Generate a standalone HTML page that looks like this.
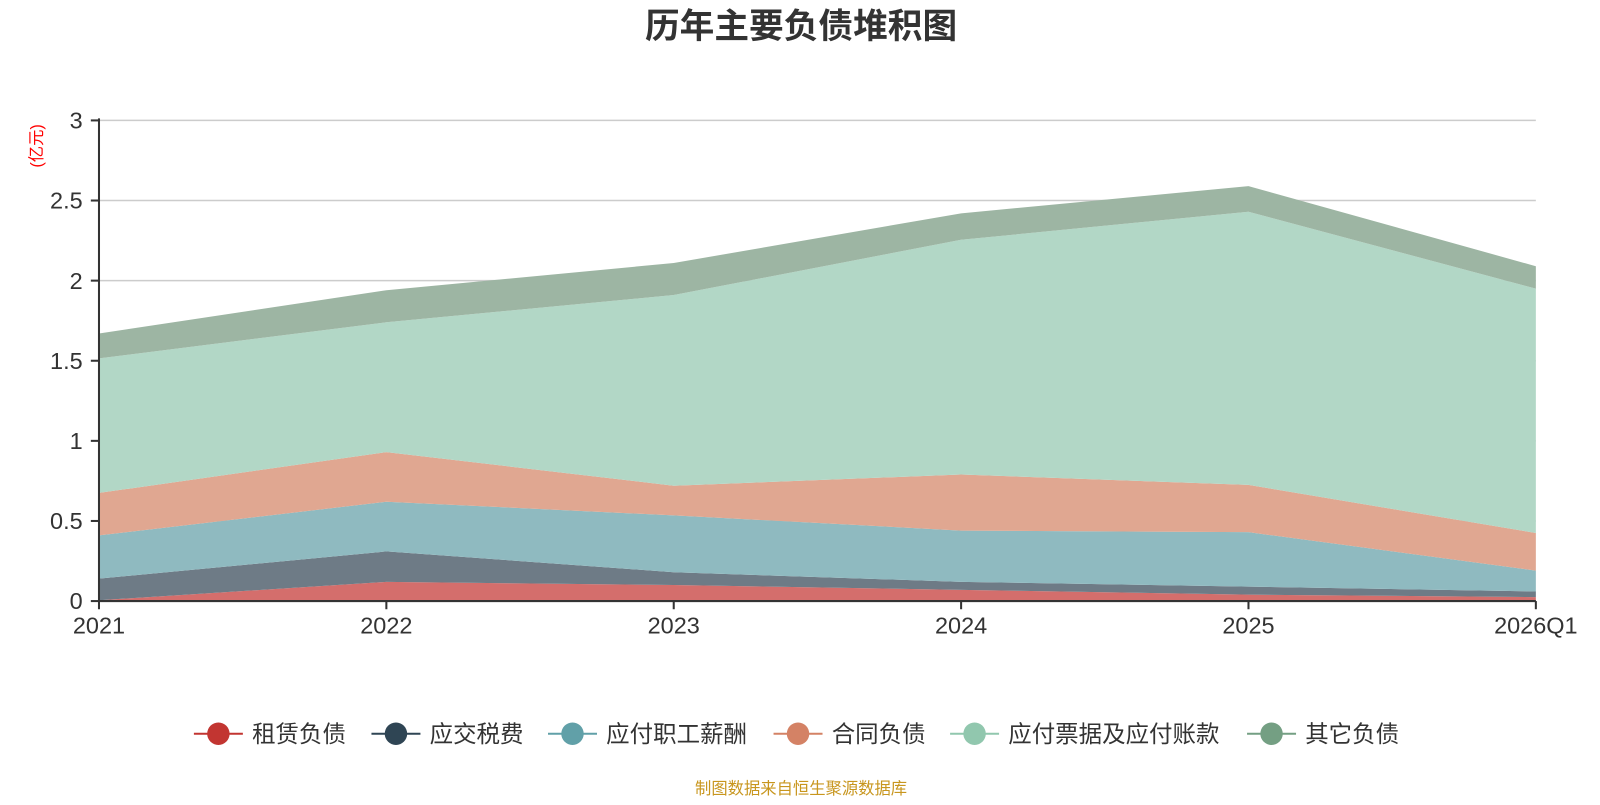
<!DOCTYPE html>
<html><head><meta charset="utf-8"><style>
body{margin:0;background:#fff;width:1600px;height:800px;overflow:hidden;font-family:"Liberation Sans","Noto Sans CJK SC",sans-serif}
</style></head><body>
<svg id="c" width="1600" height="800" style="font-family:'Liberation Sans','Noto Sans CJK SC',sans-serif">
<g transform="scale(1.0205)">
<text x="785" y="37" text-anchor="middle" font-size="34" font-weight="bold" fill="#333">历年主要负债堆积图</text>
<text transform="translate(41,143) rotate(-90)" text-anchor="middle" font-size="16" fill="#f00">(亿元)</text>
<g id="grid"></g><g id="areas"></g><g id="axes"></g><g id="legend"></g>
<text x="785" y="778" text-anchor="middle" font-size="16" fill="#c8961e">制图数据来自恒生聚源数据库</text>
</g>
</svg>
<script>
const categories=["2021","2022","2023","2024","2025","2026Q1"];
const seriesNames=["租赁负债","应交税费","应付职工薪酬","合同负债","应付票据及应付账款","其它负债"];
const s1=[0.005,0.12,0.10,0.07,0.04,0.025];
const s2=[0.135,0.19,0.08,0.05,0.05,0.035];
const s3=[0.27,0.31,0.355,0.32,0.34,0.13];
const s4=[0.265,0.31,0.185,0.35,0.295,0.235];
const s5=[0.84,0.81,1.19,1.465,1.705,1.525];
const s6=[0.155,0.2,0.2,0.165,0.16,0.14];
const yTicks=["0","0.5","1","1.5","2","2.5","3"];
const fills=["#d46e6c","#6e7b86","#8fbac0","#e0a791","#b2d7c6","#9db5a3"];
const marks=["#c23531","#2f4554","#61a0a8","#d48265","#91c7ae","#749f83"];
const X0=97,X1=1505,Y0=589,Y1=118,YMAX=3;
const xs=i=>X0+i*(X1-X0)/(categories.length-1);
const ys=v=>Y0-v*(Y0-Y1)/YMAX;
const NS="http://www.w3.org/2000/svg";
function mk(t,a,p){const e=document.createElementNS(NS,t);for(const k in a)e.setAttribute(k,a[k]);p.appendChild(e);return e;}
const grid=document.getElementById('grid'),areas=document.getElementById('areas'),axes=document.getElementById('axes'),leg=document.getElementById('legend');
yTicks.forEach(t=>{const y=ys(+t);
 if(+t>0){const l=mk('line',{x1:X0,x2:X1,y1:y,y2:y,stroke:'#ccc','stroke-width':1.5},grid);}
 const tk=mk('line',{x1:X0-8,x2:X0,y1:y,y2:y,stroke:'#333','stroke-width':2},axes);
 const tx=mk('text',{x:X0-16,y:y+8,'text-anchor':'end','font-size':23,fill:'#333'},axes);tx.textContent=t;});
const all=[s1,s2,s3,s4,s5,s6];let base=categories.map(()=>0);
all.forEach((s,k)=>{const top=base.map((b,i)=>b+s[i]);
 let d=top.map((v,i)=>(i?'L':'M')+xs(i)+','+ys(v)).join('');
 for(let i=categories.length-1;i>=0;i--)d+='L'+xs(i)+','+ys(base[i]);
 const p=mk('path',{d:d+'Z',fill:fills[k]},areas);
 base=top;});
const ya=mk('line',{x1:X0,x2:X0,y1:Y1-2,y2:Y0,stroke:'#333','stroke-width':2},axes);
const xa=mk('line',{x1:X0,x2:X1,y1:Y0,y2:Y0,stroke:'#333','stroke-width':2},axes);
categories.forEach((c,i)=>{const x=xs(i);
 const tk=mk('line',{x1:x,x2:x,y1:Y0,y2:Y0+8,stroke:'#333','stroke-width':2},axes);
 const t=mk('text',{x:x,y:Y0+32,'text-anchor':'middle','font-size':23,fill:'#333'},axes);t.textContent=c;});
const lx=[190,364,537,758,931,1222];
seriesNames.forEach((n,k)=>{const g=mk('g',{},leg);
 mk('line',{x1:lx[k],x2:lx[k]+48,y1:719,y2:719,stroke:marks[k],'stroke-width':2},g);
 mk('circle',{cx:lx[k]+24,cy:719,r:11,fill:marks[k]},g);
 const t=mk('text',{x:lx[k]+57,y:727,'font-size':23,fill:'#333'},g);t.textContent=n;});
</script>
</body></html>
